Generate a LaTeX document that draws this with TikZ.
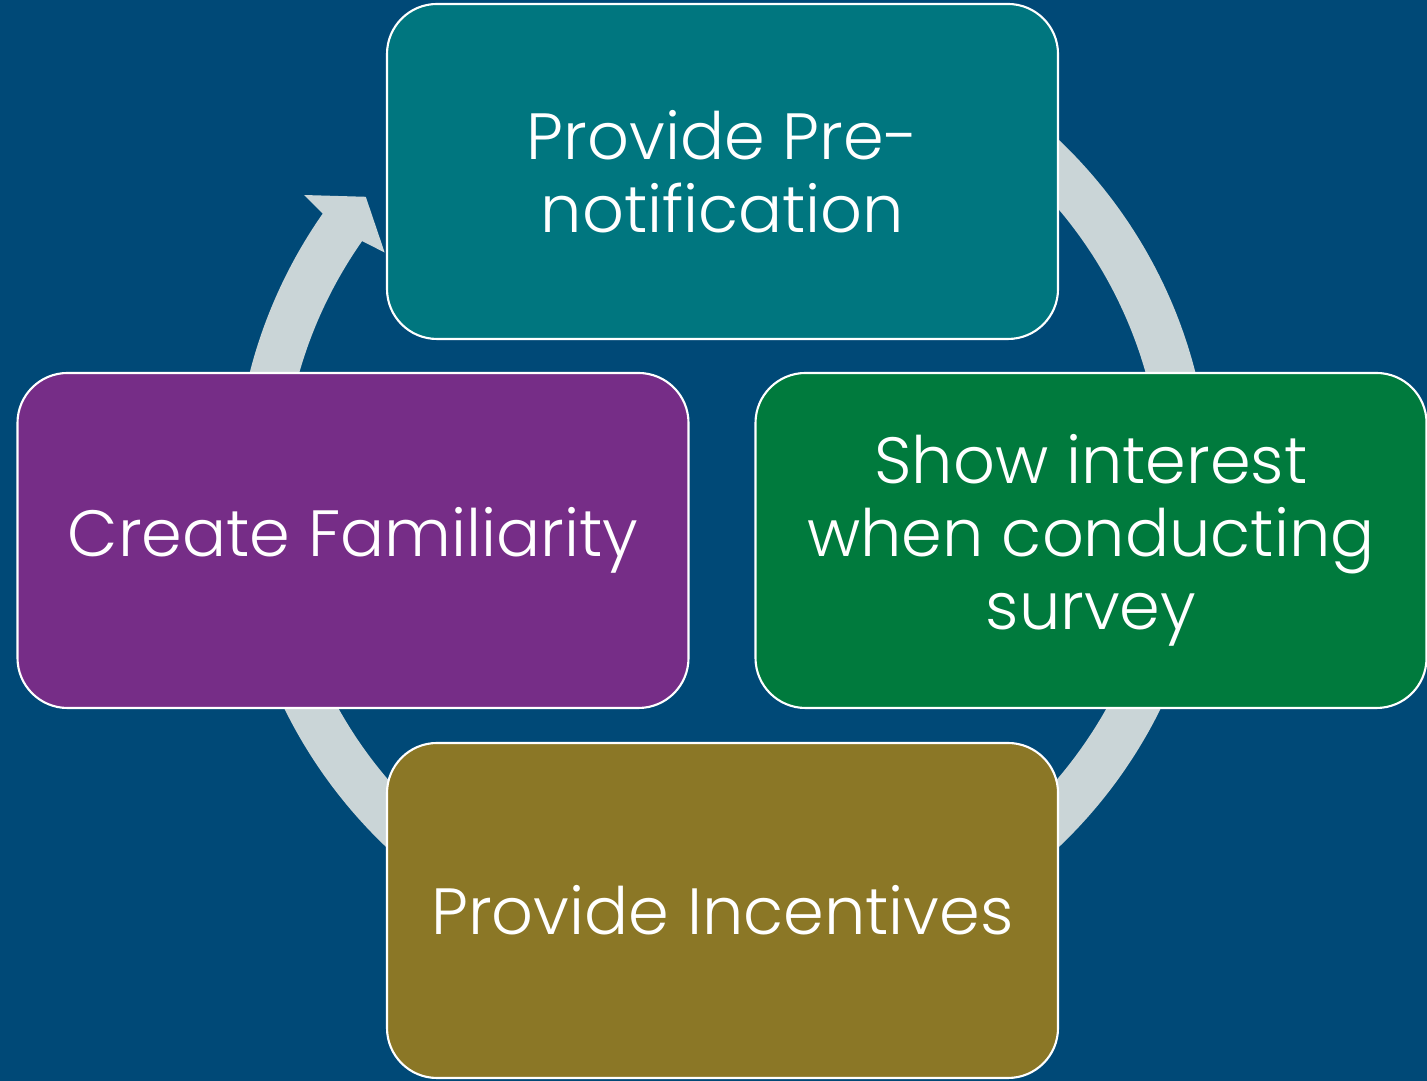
\documentclass[tikz,border=0pt]{standalone}
\usepackage{fontspec}
\setmainfont{Poppins}[UprightFont=* Light]
\definecolor{bgblue}{RGB}{0,73,119}
\definecolor{ringgray}{RGB}{202,213,215}
\definecolor{stageteal}{RGB}{0,118,127}
\definecolor{stagegreen}{RGB}{0,122,61}
\definecolor{stagepurple}{RGB}{118,45,135}
\definecolor{stageolive}{RGB}{139,119,38}

\begin{document}
\begin{tikzpicture}[
  stage/.style={draw=white, line width=0.6pt, rounded corners=0.5cm,
    minimum width=6.71cm, minimum height=3.35cm, inner sep=2pt,
    text=white, align=center, font=\fontsize{18.6}{20.8}\selectfont}]
  \fill[bgblue] (0,0) rectangle (14.27,10.81);
  \useasboundingbox (0,0) rectangle (14.27,10.81);

  % ring with arrow head, behind the boxes
  \coordinate (hub) at (7.225,5.875);
  \begin{scope}[shift={(hub)}]
    \fill[ringgray] (90:4.88) arc[start angle=90, end angle=-215, radius=4.88]
      -- (144.5:5.14) -- (140.25:4.64) -- (144.5:4.15) -- (145:4.40)
      arc[start angle=145, end angle=450, radius=4.40] -- cycle;
  \end{scope}

  \node[stage, fill=stageteal] (prenote) at (7.225,9.095) {Provide Pre-\\notification};
  \node[stage, fill=stagegreen] (interest) at (10.91,5.405) {Show interest\\when conducting\\survey};
  \node[stage, fill=stageolive] (incent) at (7.225,1.705) {Provide Incentives};
  \node[stage, fill=stagepurple] (famil) at (3.53,5.405) {Create Familiarity};
\end{tikzpicture}
\end{document}
